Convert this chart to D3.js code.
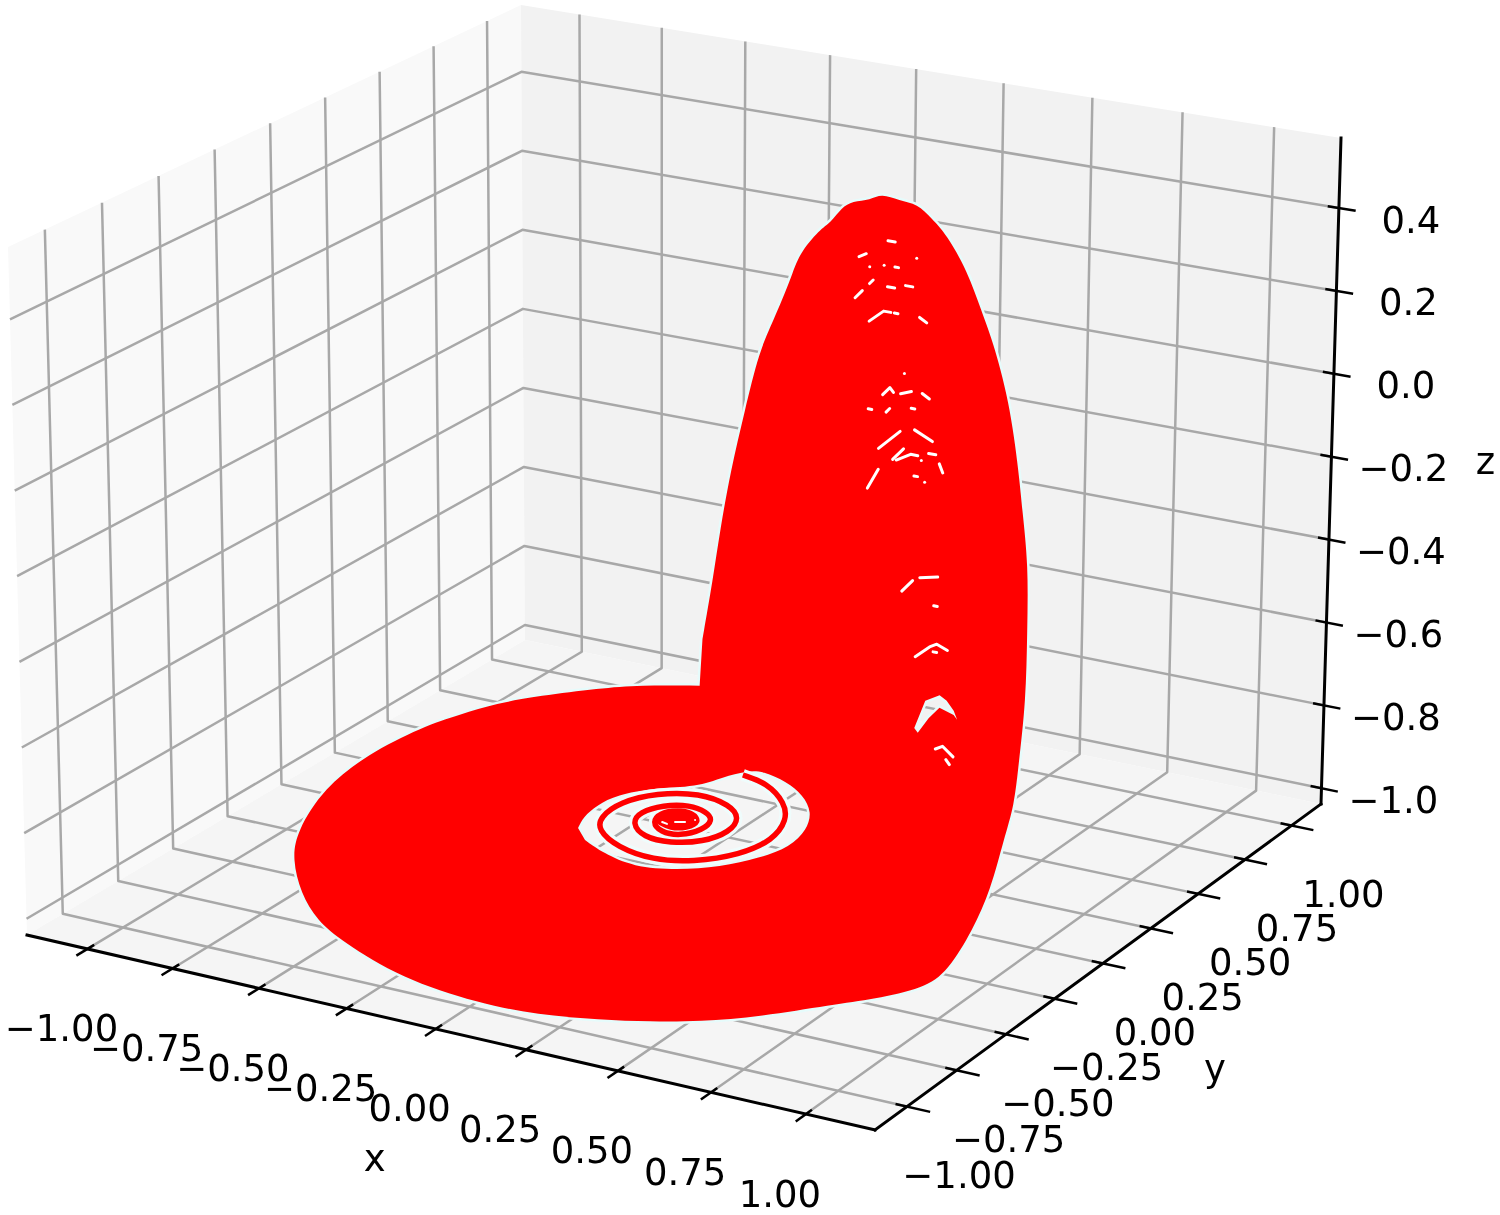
<!DOCTYPE html>
<html>
<head>
<meta charset="utf-8">
<script src="https://d3js.org/d3.v7.min.js"></script>
<style>
  html, body { margin: 0; padding: 0; background: #fff; }
  svg { display: block; filter: blur(0.5px); }
  text { font-family: "DejaVu Sans"; font-size: 37px; fill: #000; }
</style>
</head>
<body>
<div id="plot"></div>
<script>
// tick values, same as the axis labels
var xTicks = [-1, -0.75, -0.5, -0.25, 0, 0.25, 0.5, 0.75, 1];
var yTicks = [-1, -0.75, -0.5, -0.25, 0, 0.25, 0.5, 0.75, 1];
var zTicks = [-1, -0.8, -0.6, -0.4, -0.2, 0, 0.2, 0.4];

// axis limits
var xLim = [-1.18, 1.18], yLim = [-1.16, 1.16], zLim = [-1.038, 0.569];

// trajectory is too dense to read line by line, so keep its outline.
// floor part is [x, y] at z = -1, wall part is [x, z] at y = 0.46
var floorLevel = -1, wallDepth = 0.46;
var edgeFloor = [[-0.54,1.01],[-0.68,0.94],[-0.76,0.87],[-0.87,0.75],[-0.94,0.65],[-0.98,0.54],[-1.02,0.42],[-1.04,0.19],[-1.01,-0.06],[-0.91,-0.34],[-0.82,-0.50],[-0.68,-0.68],[-0.55,-0.81],[-0.43,-0.89],[-0.18,-1.02],[0.06,-1.06],[0.22,-1.05],[0.36,-1.00],[0.47,-0.95],[0.57,-0.89],[0.68,-0.79],[0.79,-0.64],[0.86,-0.56],[0.93,-0.44],[0.93,-0.32],[0.86,-0.06],[0.78,0.18],[0.65,0.49],[0.57,0.69],[0.45,0.93]];
var edgeWall = [[0.72,-0.65],[0.72,-0.49],[0.72,-0.33],[0.70,-0.20],[0.69,-0.12],[0.66,0.05],[0.61,0.19],[0.58,0.25],[0.54,0.34],[0.48,0.42],[0.44,0.45],[0.40,0.48],[0.35,0.48],[0.30,0.49],[0.27,0.47],[0.22,0.46],[0.19,0.44],[0.16,0.40],[0.13,0.38],[0.07,0.31],[0.05,0.25],[0.00,0.14],[-0.04,0.06],[-0.08,-0.09],[-0.12,-0.24],[-0.15,-0.39],[-0.17,-0.51],[-0.20,-0.66]];
var holeFloor = [[-0.305,0.028],[-0.332,0.097],[-0.343,0.183],[-0.334,0.265],[-0.279,0.350],[-0.185,0.410],[-0.162,0.500],[-0.130,0.564],[-0.094,0.584],[-0.004,0.549],[0.075,0.494],[0.151,0.407],[0.199,0.298],[0.218,0.180],[0.189,0.082],[0.132,-0.018],[0.050,-0.087],[-0.054,-0.124],[-0.166,-0.082],[-0.249,-0.031]];
var holeWall = [[0.41,-0.77],[0.42,-0.78],[0.45,-0.74],[0.48,-0.71],[0.52,-0.72],[0.53,-0.73],[0.52,-0.71],[0.50,-0.69],[0.48,-0.68],[0.46,-0.69],[0.44,-0.70]];

// the visible start of the spiral, from outside in
var spiral = [[-0.125,0.536],[-0.044,0.519],[0.062,0.426],[0.123,0.331],[0.159,0.199],[0.136,0.074],[0.058,-0.023],[-0.035,-0.061],[-0.156,-0.031],[-0.255,0.042],[-0.295,0.118],[-0.303,0.229],[-0.253,0.326],[-0.158,0.379],[-0.051,0.347],[0.014,0.284],[0.039,0.192],[0.014,0.102],[-0.054,0.056],[-0.133,0.057],[-0.205,0.123],[-0.225,0.196],[-0.198,0.264],[-0.139,0.298],[-0.078,0.278],[-0.038,0.240],[-0.026,0.171],[-0.056,0.108],[-0.113,0.107],[-0.164,0.154],[-0.177,0.215],[-0.150,0.253],[-0.105,0.255],[-0.060,0.213],[-0.068,0.162],[-0.105,0.142],[-0.147,0.163]];
var spiralCore = [[-0.164,0.154],[-0.177,0.215],[-0.150,0.253],[-0.105,0.255],[-0.060,0.213],[-0.068,0.162],[-0.105,0.142]];
var coreGaps = [[[-0.142,0.166],[-0.125,0.161]],[[-0.114,0.182],[-0.092,0.194]],[[-0.077,0.218],[-0.077,0.218]]];

// little gaps between the loops on the wall, [x, z]
var wallGaps = [
  [[0.32,0.38],[0.34,0.38]], [[0.24,0.33],[0.26,0.34]], [[0.40,0.35],[0.40,0.35]], [[0.31,0.32],[0.31,0.32]],
  [[0.34,0.32],[0.35,0.32]], [[0.27,0.31],[0.27,0.31]], [[0.27,0.27],[0.28,0.28]], [[0.32,0.27],[0.34,0.27]],
  [[0.37,0.28],[0.39,0.28]], [[0.23,0.23],[0.25,0.25]], [[0.27,0.18],[0.31,0.21],[0.33,0.21]], [[0.34,0.21],[0.35,0.21]],
  [[0.41,0.21],[0.43,0.20]], [[0.37,0.07],[0.37,0.07]], [[0.31,0.01],[0.33,0.03],[0.34,0.02]], [[0.36,0.02],[0.39,0.03]],
  [[0.42,0.03],[0.44,0.02]], [[0.27,-0.03],[0.28,-0.03]], [[0.32,-0.03],[0.33,-0.02]], [[0.39,-0.01],[0.40,-0.01]],
  [[0.30,-0.12],[0.36,-0.07]], [[0.40,-0.06],[0.45,-0.08]], [[0.34,-0.14],[0.37,-0.11]], [[0.35,-0.14],[0.39,-0.12],[0.41,-0.12]],
  [[0.44,-0.11],[0.46,-0.11]], [[0.42,-0.13],[0.42,-0.13]], [[0.47,-0.13],[0.48,-0.15]], [[0.27,-0.22],[0.30,-0.17]],
  [[0.40,-0.17],[0.41,-0.17]], [[0.43,-0.18],[0.43,-0.18]], [[0.37,-0.45],[0.40,-0.42]], [[0.42,-0.41],[0.47,-0.40]],
  [[0.46,-0.47],[0.47,-0.47]], [[0.41,-0.60],[0.45,-0.57],[0.47,-0.56],[0.50,-0.57]], [[0.46,-0.58],[0.47,-0.58]],
  [[0.47,-0.81],[0.49,-0.80],[0.52,-0.82]], [[0.50,-0.83],[0.51,-0.84]]
];

var svgWidth = 1500, svgHeight = 1215;

// where the eight box corners land, named by x y z end (0 = low, 1 = high)
var boxCorners = {
  c000: [27, 935], c100: [875, 1130], c010: [525, 640], c110: [1321, 804],
  c001: [8, 247], c101: [887, 400], c011: [521, 5], c111: [1341, 138]
};

var xScale = d3.scaleLinear().domain(xLim).range([0, 1]);
var yScale = d3.scaleLinear().domain(yLim).range([0, 1]);
var zScale = d3.scaleLinear().domain(zLim).range([0, 1]);

// perspective makes tick spacing a bit uneven along x and y
function warp(t, k) { return t / (t + k * (1 - t)); }

function project(x, y, z) {
    var a = warp(xScale(x), 1.075), b = warp(yScale(y), 0.957), e = zScale(z);
    return [0, 1].map(function(i) {
        return (1 - a) * (1 - b) * (1 - e) * boxCorners.c000[i]
            + a * (1 - b) * (1 - e) * boxCorners.c100[i]
            + (1 - a) * b * (1 - e) * boxCorners.c010[i]
            + a * b * (1 - e) * boxCorners.c110[i]
            + (1 - a) * (1 - b) * e * boxCorners.c001[i]
            + a * (1 - b) * e * boxCorners.c101[i]
            + (1 - a) * b * e * boxCorners.c011[i]
            + a * b * e * boxCorners.c111[i];
    });
}

var line = d3.line();
var smooth = d3.line().curve(d3.curveBasis);

function onFloor(p) { return project(p[0], p[1], floorLevel); }
function onWall(p) { return project(p[0], wallDepth, p[1]); }

var svg = d3.select("#plot").append("svg")
    .attr("width", svgWidth)
    .attr("height", svgHeight);

// panes
var panes = [
    { fill: "#f9f9f9", pts: [[xLim[0], yLim[0], zLim[0]], [xLim[0], yLim[1], zLim[0]], [xLim[0], yLim[1], zLim[1]], [xLim[0], yLim[0], zLim[1]]] },
    { fill: "#f2f2f2", pts: [[xLim[0], yLim[1], zLim[0]], [xLim[1], yLim[1], zLim[0]], [xLim[1], yLim[1], zLim[1]], [xLim[0], yLim[1], zLim[1]]] },
    { fill: "#f5f5f5", pts: [[xLim[0], yLim[0], zLim[0]], [xLim[1], yLim[0], zLim[0]], [xLim[1], yLim[1], zLim[0]], [xLim[0], yLim[1], zLim[0]]] }
];
svg.append("g").selectAll("path")
    .data(panes)
    .enter().append("path")
    .attr("d", function(d) { return line(d.pts.map(function(p) { return project(p[0], p[1], p[2]); })) + "Z"; })
    .attr("fill", function(d) { return d.fill; });

// grid: every tick runs over the floor and then up a wall
var gridLines = [];
xTicks.forEach(function(t) {
    gridLines.push([[t, yLim[0], zLim[0]], [t, yLim[1], zLim[0]], [t, yLim[1], zLim[1]]]);
});
yTicks.forEach(function(t) {
    gridLines.push([[xLim[1], t, zLim[0]], [xLim[0], t, zLim[0]], [xLim[0], t, zLim[1]]]);
});
zTicks.forEach(function(t) {
    gridLines.push([[xLim[0], yLim[0], t], [xLim[0], yLim[1], t], [xLim[1], yLim[1], t]]);
});
svg.append("g").selectAll("path")
    .data(gridLines)
    .enter().append("path")
    .attr("d", function(d) { return line(d.map(function(p) { return project(p[0], p[1], p[2]); })); })
    .attr("fill", "none")
    .attr("stroke", "#a8a8a8")
    .attr("stroke-width", 2.5)
    .attr("stroke-linejoin", "round");

// the red body with its two holes
var outline = edgeFloor.map(onFloor).concat(edgeWall.map(onWall));
var bodyPath = smooth(outline) + "Z" + smooth(holeFloor.map(onFloor)) + "Z" + line(holeWall.map(onWall)) + "Z";
svg.append("path")
    .attr("d", bodyPath)
    .attr("fill", "none")
    .attr("stroke", "#e6fbfb")
    .attr("stroke-width", 5);
svg.append("path")
    .attr("d", bodyPath)
    .attr("fill", "#ff0000")
    .attr("fill-rule", "evenodd");

// spiral in the floor hole
var spiralPath = smooth(spiral.map(onFloor));
svg.append("path")
    .attr("d", spiralPath)
    .attr("fill", "none")
    .attr("stroke", "#effcfc")
    .attr("stroke-width", 12);
svg.append("path")
    .attr("d", spiralPath)
    .attr("fill", "none")
    .attr("stroke", "#ff0000")
    .attr("stroke-width", 5.5);
svg.append("path")
    .attr("d", smooth(spiralCore.map(onFloor)) + "Z")
    .attr("fill", "#ff0000");
svg.append("g").selectAll("path")
    .data(coreGaps)
    .enter().append("path")
    .attr("d", function(d) { return line(d.map(onFloor)); })
    .attr("fill", "none")
    .attr("stroke", "#fff")
    .attr("stroke-width", 2)
    .attr("stroke-linecap", "round");

svg.append("g").selectAll("path")
    .data(wallGaps)
    .enter().append("path")
    .attr("d", function(d) { return line(d.map(onWall)); })
    .attr("fill", "none")
    .attr("stroke", "#fff")
    .attr("stroke-width", 3)
    .attr("stroke-linecap", "round")
    .attr("stroke-linejoin", "round");

// axis lines
var axisLines = [
    [[xLim[0], yLim[0], zLim[0]], [xLim[1], yLim[0], zLim[0]]],
    [[xLim[1], yLim[0], zLim[0]], [xLim[1], yLim[1], zLim[0]]],
    [[xLim[1], yLim[1], zLim[0]], [xLim[1], yLim[1], zLim[1]]]
];
svg.append("g").selectAll("path")
    .data(axisLines)
    .enter().append("path")
    .attr("d", function(d) { return line(d.map(function(p) { return project(p[0], p[1], p[2]); })); })
    .attr("fill", "none")
    .attr("stroke", "#000")
    .attr("stroke-width", 3)
    .attr("stroke-linecap", "square");

// tick marks, drawn from a little inside the box to a little outside
var tickMarks = [];
xTicks.forEach(function(t) {
    tickMarks.push([[t, yLim[0] + 0.03, zLim[0]], [t, yLim[0] - 0.05, zLim[0]]]);
});
yTicks.forEach(function(t) {
    tickMarks.push([[xLim[1] - 0.03, t, zLim[0]], [xLim[1] + 0.06, t, zLim[0]]]);
});
zTicks.forEach(function(t) {
    tickMarks.push([[xLim[1] - 0.03, yLim[1], t], [xLim[1] + 0.045, yLim[1], t]]);
});
svg.append("g").selectAll("path")
    .data(tickMarks)
    .enter().append("path")
    .attr("d", function(d) { return line(d.map(function(p) { return project(p[0], p[1], p[2]); })); })
    .attr("fill", "none")
    .attr("stroke", "#000")
    .attr("stroke-width", 2.5);

// tick labels
var labelSets = [
    { ticks: xTicks, fmt: d3.format(".2f"), at: function(t) { return project(t, yLim[0], zLim[0]); }, dx: -26, dy: 79 },
    { ticks: yTicks, fmt: d3.format(".2f"), at: function(t) { return project(xLim[1], t, zLim[0]); }, dx: 52, dy: 68 },
    { ticks: zTicks, fmt: d3.format(".1f"), at: function(t) { return project(xLim[1], yLim[1], t); }, dx: 72, dy: 11 }
];
labelSets.forEach(function(set) {
    svg.append("g").selectAll("text")
        .data(set.ticks)
        .enter().append("text")
        .attr("x", function(d) { return set.at(d)[0] + set.dx; })
        .attr("y", function(d) { return set.at(d)[1] + set.dy; })
        .attr("dy", "0.365em")
        .attr("text-anchor", "middle")
        .text(set.fmt);
});

// axis names, placed off the middle tick of each axis
var axisNames = [
    { name: "x", pos: project(0, yLim[0], zLim[0]), dx: -61, dy: 131 },
    { name: "y", pos: project(xLim[1], 0, zLim[0]), dx: 112, dy: 106 },
    { name: "z", pos: project(xLim[1], yLim[1], -0.2), dx: 154, dy: 6 }
];
svg.append("g").selectAll("text")
    .data(axisNames)
    .enter().append("text")
    .attr("x", function(d) { return d.pos[0] + d.dx; })
    .attr("y", function(d) { return d.pos[1] + d.dy; })
    .attr("dy", "0.3em")
    .attr("text-anchor", "middle")
    .text(function(d) { return d.name; });
</script>
</body>
</html>
